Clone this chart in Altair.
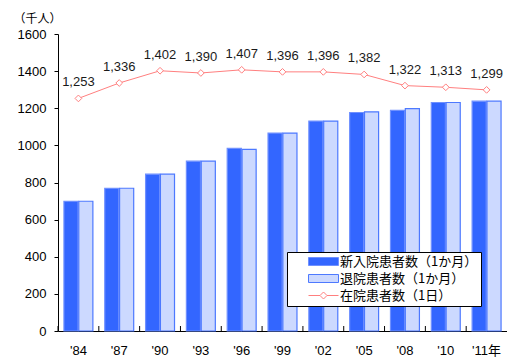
import altair as alt
import pandas as pd

# ---- data ----
years = ["'84", "'87", "'90", "'93", "'96", "'99", "'02", "'05", "'08", "'10", "'11年"]
admissions = [699, 769, 845, 915, 984, 1066, 1131, 1177, 1189, 1231, 1238]   # 新入院患者数（1か月）
discharges = [699, 769, 845, 915, 978, 1066, 1131, 1181, 1198, 1231, 1238]   # 退院患者数（1か月）
inpatients = [1253, 1336, 1402, 1390, 1407, 1396, 1396, 1382, 1322, 1313, 1299]  # 在院患者数（1日）
series_names = ["新入院患者数（1か月）", "退院患者数（1か月）", "在院患者数（1日）"]
y_ticks = [0, 200, 400, 600, 800, 1000, 1200, 1400, 1600]
unit_label = "（千人）"

FONT = "Liberation Sans, Noto Sans CJK JP, sans-serif"
JFONT = "Noto Sans CJK JP, sans-serif"

bars_df = pd.DataFrame({
    "year": years + years,
    "series": [series_names[0]] * len(years) + [series_names[1]] * len(years),
    "value": admissions + discharges,
})
line_df = pd.DataFrame({
    "year": years,
    "series": [series_names[2]] * len(years),
    "value": inpatients,
})

# legend symbol shapes (unit radius = 5px with symbolSize 100)
rect_path = "M-3,-0.8H3V0.8H-3Z"
line_path = "M-3,0H-0.7M0,-0.7L0.7,0L0,0.7L-0.7,0ZM0.7,0H3"

fill_scale = alt.Scale(domain=series_names, range=["#3366ff", "#ccd9ff", "#ffffff"])
stroke_scale = alt.Scale(domain=series_names, range=["#6f90ff", "#4d79ff", "#ff7f7f"])
shape_scale = alt.Scale(domain=series_names, range=[rect_path, rect_path, line_path])

legend = alt.Legend(
    title=None, orient="none", legendX=229, legendY=218,
    fillColor="white", strokeColor="black", padding=3, rowPadding=3,
    symbolSize=100, symbolStrokeWidth=1, symbolOffset=27, symbolOpacity=1,
    labelOffset=10, labelFont=JFONT, labelFontSize=13, labelColor="black",
    labelLimit=400, labelExpr="datum.label + '\u3000\u2002'",
)

x_axis = alt.Axis(title=None, ticks=False, labelAngle=0, labelPadding=13,
                  domainColor="black", labelColor="black", labelFont=FONT,
                  labelFontSize=13)
y_axis = alt.Axis(values=y_ticks, format="d", labelOverlap=False, grid=False,
                  title=unit_label, titleAngle=0,
                  titleAlign="left", titleBaseline="middle", titleX=-45, titleY=-16,
                  titleFont=JFONT, titleFontSize=12, titleFontWeight="normal",
                  titleColor="black", domainColor="black", tickColor="black",
                  tickSize=4, labelPadding=8, labelColor="black", labelFont=FONT,
                  labelFontSize=13)
y_scale = alt.Scale(domain=[0, 1600], nice=False)
x_scale = alt.Scale(paddingInner=0, paddingOuter=0)


def x_enc(**kw):
    return alt.X("year:N", sort=years, scale=x_scale, axis=x_axis, **kw)


def y_enc():
    return alt.Y("value:Q", scale=y_scale, axis=y_axis)


bars = alt.Chart(bars_df).mark_bar(strokeWidth=1.2).encode(
    x=x_enc(),
    xOffset=alt.XOffset("series:N", sort=series_names[:2],
                        scale=alt.Scale(domain=series_names[:2], paddingInner=0.05, paddingOuter=0.4)),
    y=y_enc(),
    fill=alt.Fill("series:N", scale=fill_scale, legend=legend),
    stroke=alt.Stroke("series:N", scale=stroke_scale, legend=legend),
)

ticks = alt.Chart(line_df).mark_rule(color="black", strokeWidth=1).encode(
    x=x_enc(bandPosition=0),
    y=alt.value(297),
    y2=alt.value(292),
)

line = alt.Chart(line_df).mark_line(color="#ff7f7f", strokeWidth=1).encode(
    x=x_enc(),
    y=y_enc(),
)

points = alt.Chart(line_df).mark_point(shape="diamond", size=45, filled=True, fill="white",
                                      stroke="#ff7f7f", strokeWidth=1, opacity=1).encode(
    x=x_enc(),
    y=y_enc(),
)

labels = alt.Chart(line_df).mark_text(dy=-12, baseline="alphabetic", fontSize=13, font=FONT,
                                      color="#1a1a1a").encode(
    x=x_enc(),
    y=y_enc(),
    text=alt.Text("value:Q", format=","),
)

legend_shapes = alt.Chart(line_df).mark_point(opacity=0).encode(
    x=x_enc(),
    y=y_enc(),
    shape=alt.Shape("series:N", scale=shape_scale, legend=legend),
)

chart = alt.layer(bars, ticks, line, points, labels, legend_shapes).properties(
    width=449, height=297,
    padding={"left": 58, "top": 34, "right": 0, "bottom": 27},
    autosize=alt.AutoSizeParams(type="none"),
    background="white",
).configure_view(stroke=None)

chart.save("out.html", embed_options={"renderer": "svg", "actions": False})
